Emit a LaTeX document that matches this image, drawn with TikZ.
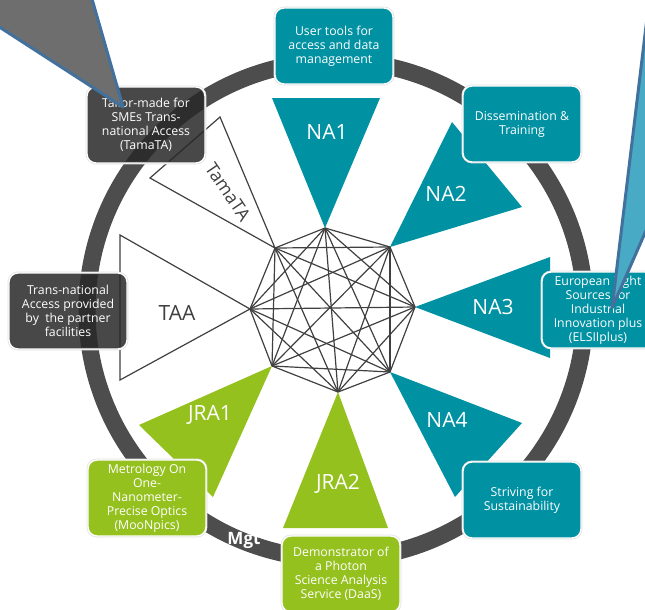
\documentclass[tikz,border=0pt]{standalone}
\usepackage{fontspec}
\setmainfont{Open Sans}
\definecolor{nateal}{RGB}{0,145,162}
\definecolor{jragreen}{RGB}{149,193,31}
\definecolor{ringgrey}{RGB}{77,77,77}
\definecolor{boxgrey}{RGB}{40,40,40}
\definecolor{linegrey}{RGB}{64,64,64}
\definecolor{calloutblue}{RGB}{65,113,156}
\definecolor{calloutgrey}{RGB}{110,110,110}
\definecolor{calloutlight}{RGB}{72,170,196}
\tikzset{
	ring/.style={draw=ringgrey,line width=17pt},
	edge/.style={draw=linegrey,line width=1.2pt},
	open wp/.style={fill=white,draw=linegrey,line width=1.2pt,line join=miter},
	wplabel/.style={font=\fontsize{21}{21}\selectfont,text=white},
	box/.style={rectangle,rounded corners=9pt,fill=#1,draw=white,line width=1.4pt,
		text=white,align=center,minimum width=118pt,minimum height=76pt,inner sep=1pt,
		font=\fontsize{12.3}{14}\selectfont,preaction={draw=black!12,line width=2.8pt}},
	darkbox/.style={box=boxgrey,fill opacity=.85,text opacity=1},
	callout/.style={draw=calloutblue,line width=3pt,line join=round}
}
\begin{document}
\begin{tikzpicture}[x=1pt,y=-1pt]
	\useasboundingbox (0,0) rectangle (645,610);
	% ring
	\draw[ring] (336,310) circle[radius=249pt];
	\node[font=\bfseries\fontsize{17}{17}\selectfont,text=white] (mgt) at (244,540) {Mgt};
	% centre graph
	\coordinate (v1) at (325,228);
	\coordinate (v2) at (390,247);
	\coordinate (v3) at (415,307);
	\coordinate (v4) at (390,372);
	\coordinate (v5) at (338,392);
	\coordinate (v6) at (272,366);
	\coordinate (v7) at (250,309);
	\coordinate (v8) at (275,248);
	\foreach \i [evaluate=\i as \k using int(\i+1)] in {1,...,7}
		\foreach \j in {\k,...,8}
			\draw[edge] (v\i) -- (v\j);
	% work packages
	\fill[nateal] (v1) -- (272,98) -- (380,98) -- cycle;
	\fill[nateal] (v2) -- (452,122) -- (522,207) -- cycle;
	\fill[nateal] (v3) -- (550,257) -- (550,358) -- cycle;
	\fill[nateal] (v4) -- (522,423) -- (455,497) -- cycle;
	\fill[jragreen] (v5) -- (388,528) -- (283,528) -- cycle;
	\fill[jragreen] (v6) -- (213,497) -- (139,425) -- cycle;
	\draw[open wp] (v7) -- (120,380) -- (120,235) -- cycle;
	\draw[open wp] (v8) -- (150,178) -- (220,117) -- cycle;
	\node[wplabel] (na1) at (327,132) {NA1};
	\node[wplabel] (na2) at (446,194) {NA2};
	\node[wplabel] (na3) at (493,307) {NA3};
	\node[wplabel] (na4) at (447,420) {NA4};
	\node[wplabel] (jra2) at (338,484) {JRA2};
	\node[wplabel] (jra1) at (210,415) {JRA1};
	\node[wplabel,text=linegrey] (taa) at (177,313) {TAA};
	\node[wplabel,text=linegrey,font=\fontsize{18}{18}\selectfont,rotate=-56,inner sep=0pt] (tamata) at (228,192) {TamaTA};
	% boxes
	\node[box=nateal] (tools) at (334,46) {User tools for\\access and data\\management};
	\node[box=nateal] (dissem) at (522,124) {Dissemination \&\\Training};
	\node[box=nateal,minimum width=112pt] (elsii) at (598,310) {European Light\\Sources for\\Industrial\\Innovation plus\\(ELSIIplus)};
	\node[box=nateal] (sustain) at (522,500) {Striving for\\Sustainability};
	\node[box=jragreen] (daas) at (341,574) {Demonstrator of\\a Photon\\Science Analysis\\Service (DaaS)};
	\node[box=jragreen] (moon) at (147,498) {Metrology On\\One-\\Nanometer-\\Precise Optics\\(MooNpics)};
	\node[darkbox] (access) at (68,311) {Trans-national\\Access provided\\by~ the partner\\facilities};
	\node[darkbox] (smes) at (146,125) {Tailor-made for\\SMEs Trans-\\national Access\\(TamaTA)};
	% callouts
	\coordinate (tipl) at (123,107);
	\coordinate (tipr) at (612,308);
	\fill[calloutgrey] (-30,8) -- (tipl) -- (88,-15) -- (-30,-15) -- cycle;
	\draw[callout] (-30,8) -- (tipl) -- (88,-15);
	\fill[calloutlight] (651,-15) -- (tipr) -- (670,176) -- (670,-15) -- cycle;
	\draw[callout] (651,-15) -- (tipr) -- (670,176);
\end{tikzpicture}
\end{document}
